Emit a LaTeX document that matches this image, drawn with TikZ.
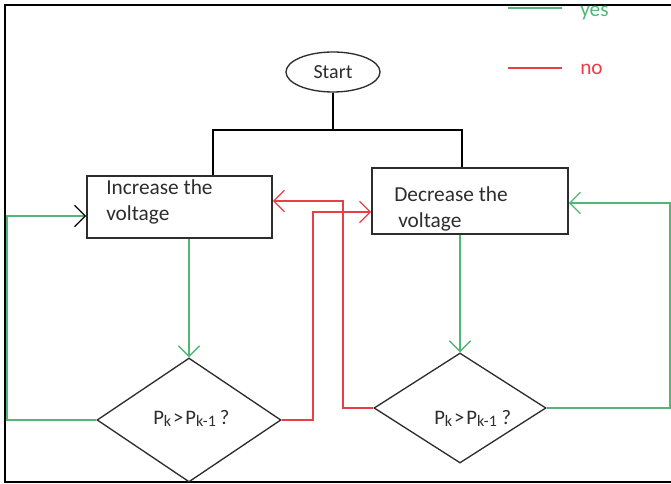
\documentclass[tikz,border=0pt]{standalone}
\usepackage{fontspec}
\setmainfont{Carlito}
\usetikzlibrary{shapes.geometric,arrows.meta}
\definecolor{yescol}{RGB}{82,182,118}
\definecolor{nocol}{RGB}{232,62,72}
\definecolor{ink}{RGB}{45,45,45}
\newcommand\sbx[1]{\raisebox{-0.8pt}{\fontsize{12}{12}\selectfont #1}}
\begin{document}
\begin{tikzpicture}[x=0.75pt,y=-0.75pt,
  frame/.style={line width=1.1pt, draw=black},
  boxshape/.style={draw=ink, line width=1.2pt, rectangle, inner sep=0},
  boxtext/.style={font=\fontsize{16}{19.5}\selectfont, text=ink, align=left, inner sep=0},
  dia/.style={draw=ink, line width=1pt, diamond, inner sep=0},
  diatext/.style={font=\fontsize{15.5}{16}\selectfont, text=ink, inner sep=0},
  link/.style={line width=1.1pt, draw=black},
  yes/.style={line width=1pt, draw=yescol},
  no/.style={line width=1pt, draw=nocol},
  tip/.style={-{Straight Barb[length=8pt,width=16pt,line width=1pt]}},
  tipk/.style={-{Straight Barb[length=8pt,width=16pt,line width=1pt,color=black]}},
  legend/.style={font=\fontsize{16}{16}\selectfont, inner sep=0, anchor=base west},
]
\useasboundingbox (0,0) rectangle (671,484);
\draw[frame] (671,5) -- (5,5) -- (5,482) -- (671,482);

% nodes
\node[ellipse, draw=ink, line width=1pt, minimum width=70.5pt, minimum height=30pt, inner sep=0, font=\fontsize{15}{16}\selectfont, text=ink] (start) at (333,72) {Start};
\node[boxshape, minimum width=138.75pt, minimum height=46.5pt] (inc) at (179.5,207) {};
\node[boxshape, minimum width=147pt, minimum height=49.5pt] (dec) at (470,201) {};
\node[boxtext, anchor=base west] (inctxt) at (106,221) {Increase the\\voltage};
\node[boxtext, anchor=base west] (dectxt) at (394,228) {Decrease the\\\hspace{3pt}voltage};
\node[dia, minimum width=138pt, minimum height=93pt] (d1) at (189,420) {};
\node[dia, minimum width=129pt, minimum height=82.5pt] (d2) at (460,408) {};
\node[diatext, anchor=base west] (t1) at (153,425) {P\sbx{k}\hspace{1.5pt}>\hspace{1.5pt}P\sbx{k-1}\hspace{3pt}?};
\node[diatext, anchor=base west] (t2) at (434,425) {P\sbx{k}\hspace{1.5pt}>\hspace{1.5pt}P\sbx{k-1} ?};

% legend
\coordinate (ly1) at (508,8);
\coordinate (ly2) at (562,8);
\coordinate (ln1) at (508,68);
\coordinate (ln2) at (562,68);
\draw[yes] (ly1) -- (ly2);
\draw[no] (ln1) -- (ln2);
\node[legend, text=yescol] (yeslbl) at (580,17) {yes};
\node[legend, text=nocol] (nolbl) at (580,75) {no};

% start split
\coordinate (split) at (333,130);
\coordinate (bl) at (213,130);
\coordinate (br) at (462,130);
\draw[link] (start) -- (split);
\draw[link] (bl |- inc.north) -- (bl) -- (br) -- (br |- dec.north);

% yes paths
\draw[yes, tip] (d1.north |- inc.south) -- (d1.north);
\draw[yes, tip] (d2.north |- dec.south) -- (d2.north);
\coordinate (lyes) at (7,216);
\draw[yes, tipk] (d1.west) -| (lyes) -- (lyes -| inc.west);
\coordinate (ryes) at (670,203);
\draw[yes, tip] (d2.east) -| (ryes) -- (ryes -| dec.east);

% no paths
\coordinate (rno1) at (313,212);
\draw[no, tip] (d1.east) -| (rno1) -- (rno1 -| dec.west);
\coordinate (rno2) at (343,201);
\draw[no, tip] (d2.west) -| (rno2) -- (rno2 -| inc.east);
\end{tikzpicture}
\end{document}
